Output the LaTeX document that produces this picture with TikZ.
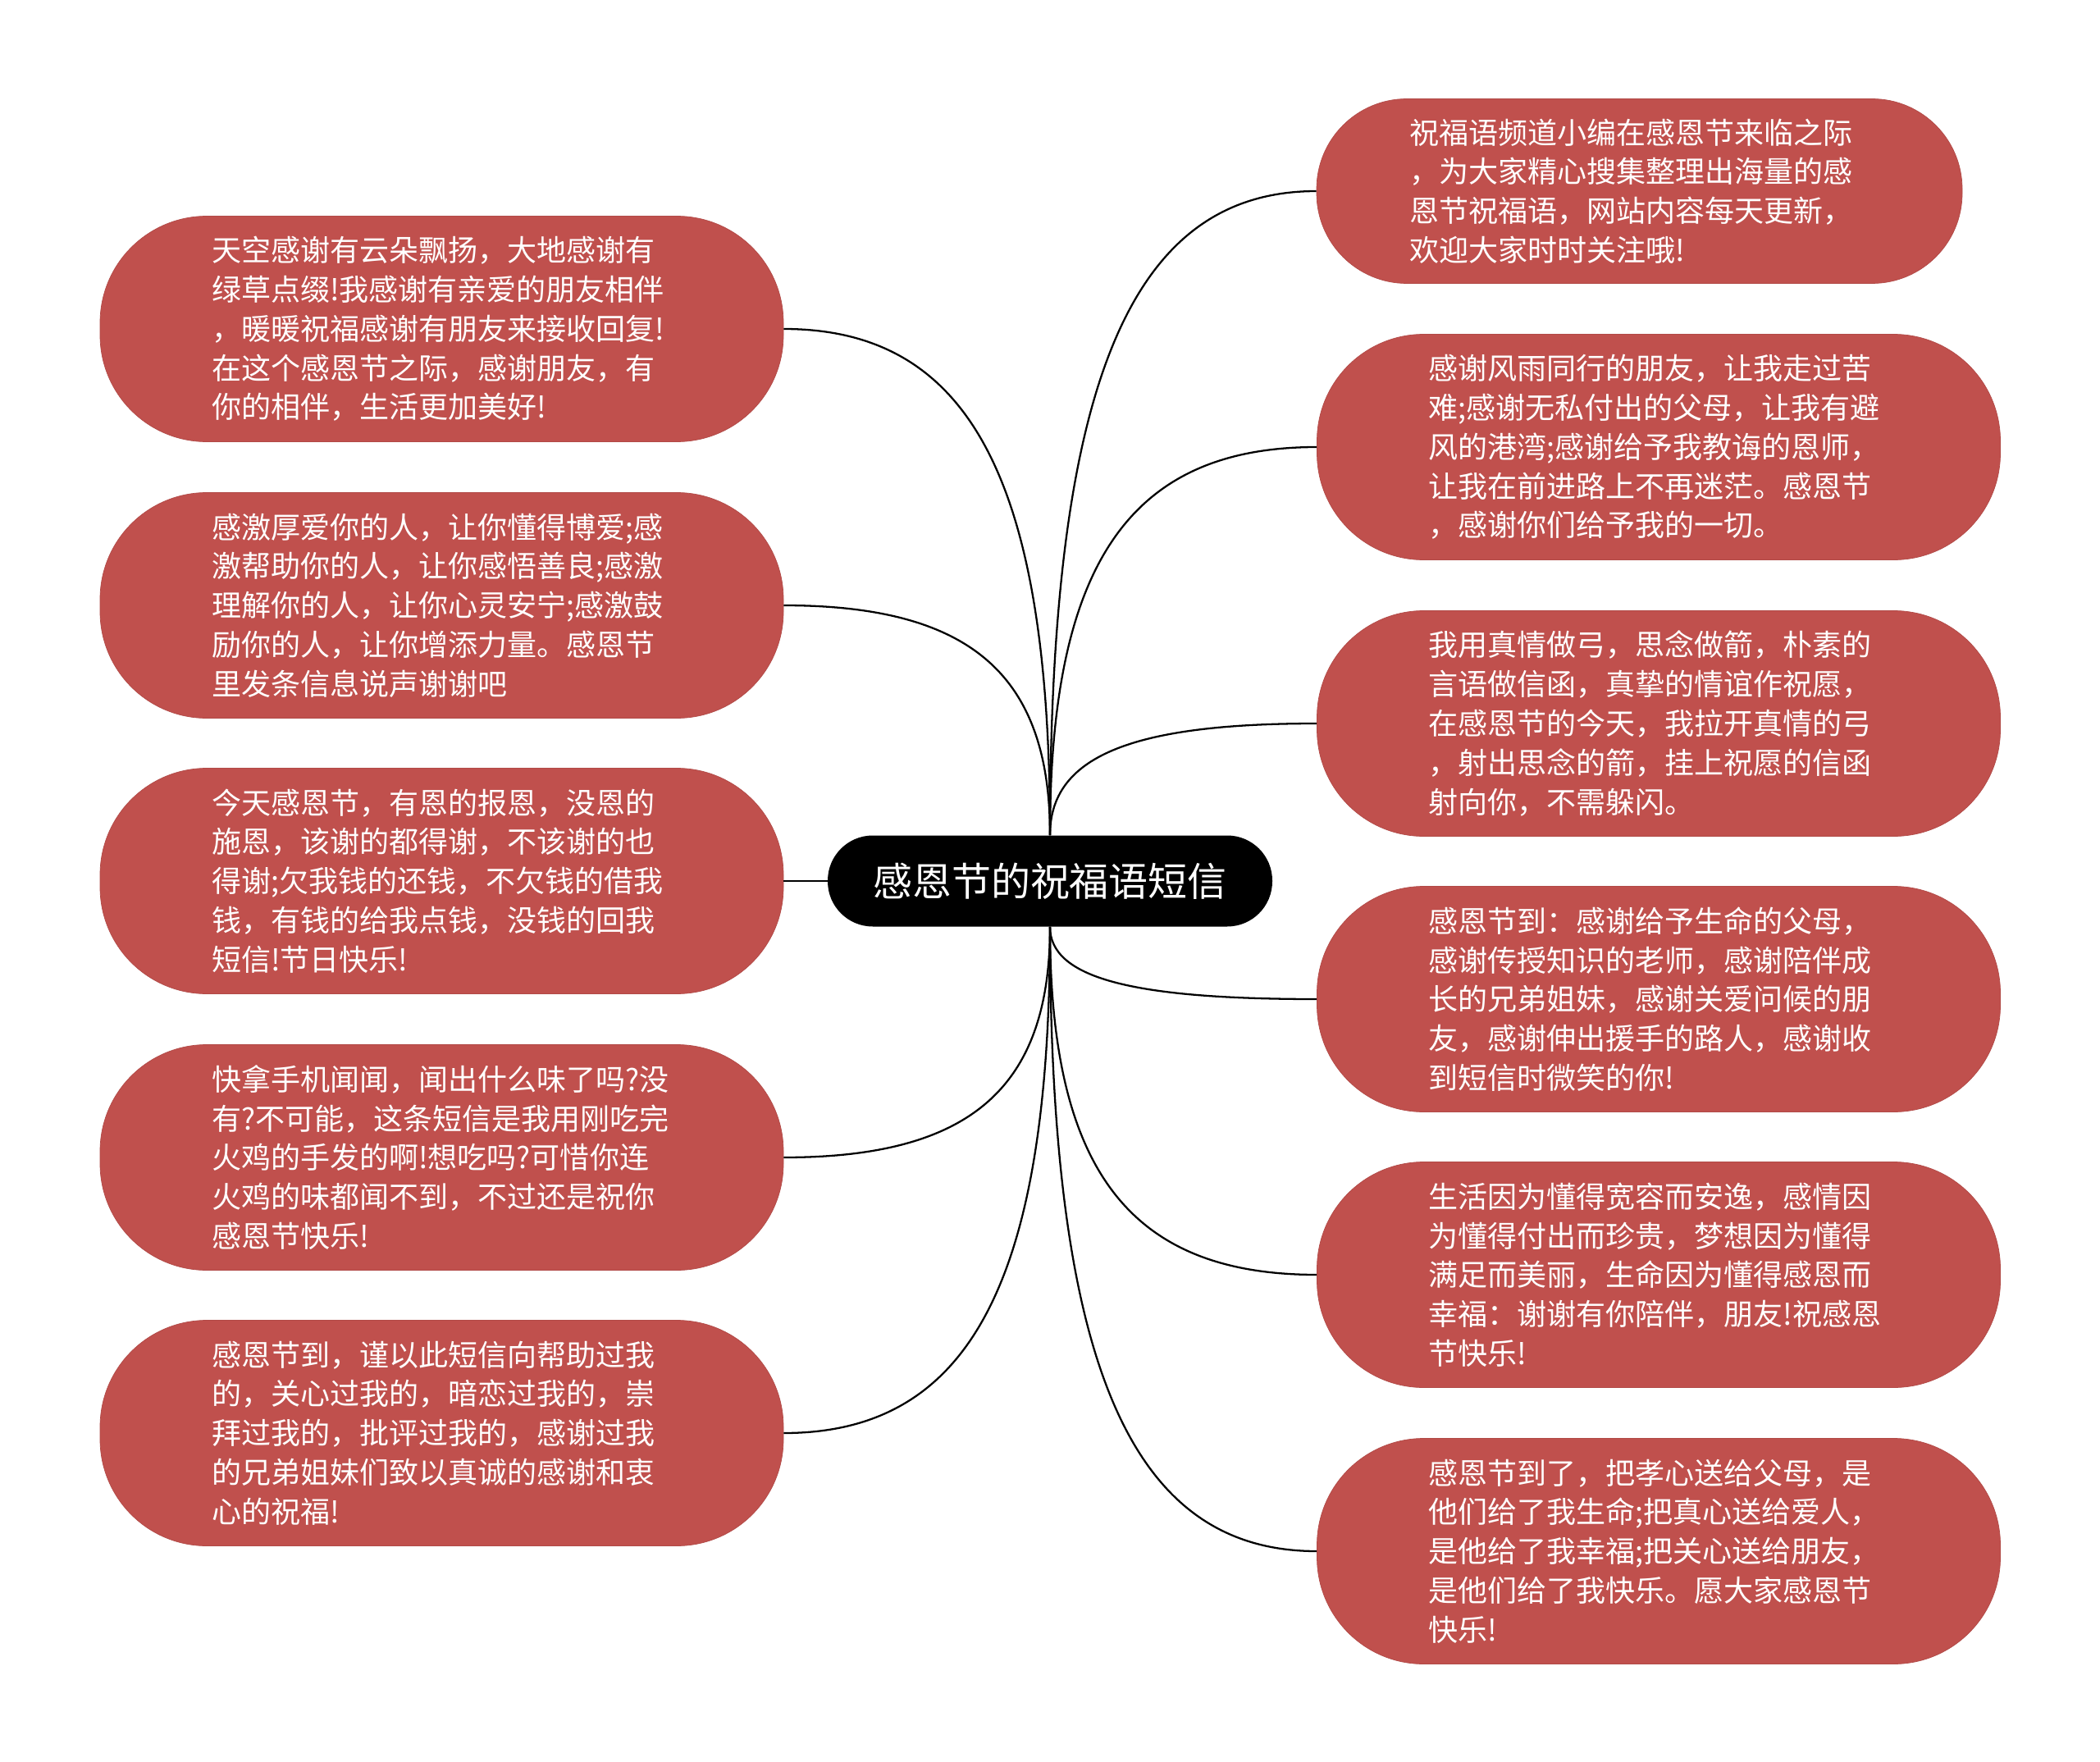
\documentclass[tikz,border=0pt]{standalone}
\usepackage{fontspec}
\newfontfamily\cjk{Noto Sans CJK SC}
\usetikzlibrary{positioning, calc}
\definecolor{wishred}{RGB}{192,80,77}

\begin{document}
\begin{tikzpicture}[
	wish/.style={
		fill=wishred,
		draw=wishred!92!black,
		rounded corners=2.6cm,
		minimum width=16.66cm,
		minimum height=5.5cm,
		text width=11.22cm,
		align=left,
		inner sep=0pt,
		text=white,
		font=\cjk\fontsize{20.5}{27.2}\selectfont
	},
	link/.style={
		line width=1.3pt,
		color=black
	}
]
	\useasboundingbox (0,0) rectangle (51.2,-42.96);

	\node[
		fill=black,
		rounded corners=1.1cm,
		minimum width=10.84cm,
		minimum height=2.22cm,
		inner sep=0pt,
		text=white,
		font=\cjk\fontsize{27.3}{32}\selectfont
	] (title) at (25.6,-21.48) {感恩节的祝福语短信};

	% left side
	\node[wish] (l1) at (10.77,-8.02) {天空感谢有云朵飘扬，大地感谢有\\绿草点缀!我感谢有亲爱的朋友相伴\\，暖暖祝福感谢有朋友来接收回复!\\在这个感恩节之际，感谢朋友，有\\你的相伴，生活更加美好!};
	\node[wish] (l2) at (10.77,-14.76) {感激厚爱你的人，让你懂得博爱;感\\激帮助你的人，让你感悟善良;感激\\理解你的人，让你心灵安宁;感激鼓\\励你的人，让你增添力量。感恩节\\里发条信息说声谢谢吧};
	\node[wish] (l3) at (10.77,-21.48) {今天感恩节，有恩的报恩，没恩的\\施恩，该谢的都得谢，不该谢的也\\得谢;欠我钱的还钱，不欠钱的借我\\钱，有钱的给我点钱，没钱的回我\\短信!节日快乐!};
	\node[wish] (l4) at (10.77,-28.22) {快拿手机闻闻，闻出什么味了吗?没\\有?不可能，这条短信是我用刚吃完\\火鸡的手发的啊!想吃吗?可惜你连\\火鸡的味都闻不到，不过还是祝你\\感恩节快乐!};
	\node[wish] (l5) at (10.77,-34.94) {感恩节到，谨以此短信向帮助过我\\的，关心过我的，暗恋过我的，崇\\拜过我的，批评过我的，感谢过我\\的兄弟姐妹们致以真诚的感谢和衷\\心的祝福!};

	% right side
	\node[
		wish,
		rounded corners=2.2cm,
		minimum width=15.74cm,
		minimum height=4.5cm
	] (r1) at (39.97,-4.66) {祝福语频道小编在感恩节来临之际\\，为大家精心搜集整理出海量的感\\恩节祝福语，网站内容每天更新，\\欢迎大家时时关注哦!};
	\node[wish] (r2) at (40.44,-10.90) {感谢风雨同行的朋友，让我走过苦\\难;感谢无私付出的父母，让我有避\\风的港湾;感谢给予我教诲的恩师，\\让我在前进路上不再迷茫。感恩节\\，感谢你们给予我的一切。};
	\node[wish] (r3) at (40.44,-17.64) {我用真情做弓，思念做箭，朴素的\\言语做信函，真挚的情谊作祝愿，\\在感恩节的今天，我拉开真情的弓\\，射出思念的箭，挂上祝愿的信函\\射向你，不需躲闪。};
	\node[wish] (r4) at (40.44,-24.36) {感恩节到：感谢给予生命的父母，\\感谢传授知识的老师，感谢陪伴成\\长的兄弟姐妹，感谢关爱问候的朋\\友，感谢伸出援手的路人，感谢收\\到短信时微笑的你!};
	\node[wish] (r5) at (40.44,-31.08) {生活因为懂得宽容而安逸，感情因\\为懂得付出而珍贵，梦想因为懂得\\满足而美丽，生命因为懂得感恩而\\幸福：谢谢有你陪伴，朋友!祝感恩\\节快乐!};
	\node[wish] (r6) at (40.44,-37.82) {感恩节到了，把孝心送给父母，是\\他们给了我生命;把真心送给爱人，\\是他给了我幸福;把关心送给朋友，\\是他们给了我快乐。愿大家感恩节\\快乐!};

	% connectors
	\draw[link] (title.west) -- (l3.east);
	\foreach \n/\a/\b in {l1/north/east, l2/north/east, l4/south/east, l5/south/east,
		r1/north/west, r2/north/west, r3/north/west, r4/south/west, r5/south/west, r6/south/west}
		\draw[link] (title.\a) .. controls ($(title.\a)!0.7!(title.\a |- \n.\b)$) and ($(\n.\b)!0.7!(title.\a |- \n.\b)$) .. (\n.\b);

\end{tikzpicture}
\end{document}
